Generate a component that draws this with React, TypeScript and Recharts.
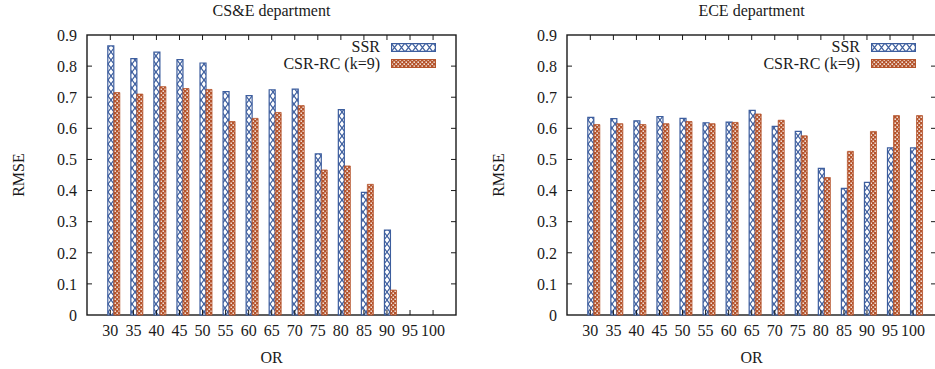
import * as React from "react";
import { BarChart, Bar, XAxis, YAxis, Legend } from "recharts";

const orLevels = ["30", "35", "40", "45", "50", "55", "60", "65", "70", "75", "80", "85", "90", "95", "100"];

// CS&E department (no results at 95 / 100)
const cseSSR = [0.865, 0.824, 0.845, 0.821, 0.81, 0.718, 0.705, 0.724, 0.726, 0.518, 0.66, 0.394, 0.273, null, null];
const cseCSR = [0.715, 0.71, 0.734, 0.728, 0.725, 0.622, 0.632, 0.651, 0.673, 0.466, 0.479, 0.42, 0.08, null, null];

// ECE department
const eceSSR = [0.635, 0.631, 0.624, 0.638, 0.632, 0.618, 0.62, 0.658, 0.606, 0.59, 0.471, 0.407, 0.426, 0.537, 0.537];
const eceCSR = [0.612, 0.615, 0.612, 0.615, 0.622, 0.615, 0.619, 0.646, 0.626, 0.576, 0.442, 0.526, 0.59, 0.641, 0.641];

const yTicks = [0, 0.1, 0.2, 0.3, 0.4, 0.5, 0.6, 0.7, 0.8, 0.9];

const BLUE = "#3d5e9e";
const ORANGE = "#b5542c";
const INK = "#1a1a1a";
const FONT = "'Liberation Serif', 'DejaVu Serif', serif";

// plot frame inside each 470x369 panel
const W = 470;
const H = 369;
const PL = 87;
const PR = 456;
const PT = 35;
const PB = 315;
const TICK = 5;
const SHIFT = 3; // gnuplot puts the tick on the first bar of the cluster

function XTick(props: any) {
  const { x, y, payload } = props;
  const cx = x - SHIFT;
  return (
    <g>
      <line x1={cx} x2={cx} y1={PT} y2={PT + TICK} stroke={INK} strokeWidth={1} />
      <line x1={cx} x2={cx} y1={PB} y2={PB - TICK} stroke={INK} strokeWidth={1} />
      <text x={cx} y={y} dy="0.71em" textAnchor="middle" fill={INK} fontSize={16} fontFamily={FONT}>
        {payload.value}
      </text>
    </g>
  );
}

function YTick(props: any) {
  const { x, y, payload } = props;
  const v = payload.value;
  const edge = v === 0 || v === 0.9;
  return (
    <g>
      {!edge && <line x1={PL} x2={PL + TICK} y1={y} y2={y} stroke={INK} strokeWidth={1} />}
      {!edge && <line x1={PR - TICK} x2={PR} y1={y} y2={y} stroke={INK} strokeWidth={1} />}
      <text x={x} y={y} dy="0.36em" textAnchor="end" fill={INK} fontSize={16} fontFamily={FONT}>
        {String(v)}
      </text>
    </g>
  );
}

function PatternDefs({ id }: { id: string }) {
  return (
    <defs>
      <pattern id={`${id}-ssr`} patternUnits="userSpaceOnUse" width={6} height={8}>
        <rect width={6} height={8} fill="#ffffff" />
        <path d="M0,0 L6,8 M6,0 L0,8" stroke={BLUE} strokeWidth={1.2} />
      </pattern>
      <pattern id={`${id}-csr`} patternUnits="userSpaceOnUse" width={4} height={4}>
        <rect width={4} height={4} fill={ORANGE} />
        <rect x={0.5} y={0.5} width={1.4} height={1.4} fill="#ffffff" />
        <rect x={2.5} y={2.5} width={1.4} height={1.4} fill="#ffffff" />
      </pattern>
    </defs>
  );
}

function LegendBox({ id }: { id: string }) {
  const rows = [
    { name: "SSR", fill: `url(#${id}-lssr)`, stroke: BLUE },
    { name: "CSR-RC (k=9)", fill: `url(#${id}-lcsr)`, stroke: ORANGE },
  ];
  return (
    <div style={{ fontFamily: FONT, fontSize: 16, color: INK }}>
      <svg width={0} height={0} style={{ position: "absolute" }}>
        <defs>
          <pattern id={`${id}-lssr`} patternUnits="userSpaceOnUse" width={7} height={9}>
            <rect width={7} height={9} fill="#ffffff" />
            <path d="M0,0 L7,9 M7,0 L0,9" stroke={BLUE} strokeWidth={1.2} />
          </pattern>
          <pattern id={`${id}-lcsr`} patternUnits="userSpaceOnUse" width={4} height={4}>
            <rect width={4} height={4} fill={ORANGE} />
            <rect x={0.5} y={0.5} width={1.4} height={1.4} fill="#ffffff" />
            <rect x={2.5} y={2.5} width={1.4} height={1.4} fill="#ffffff" />
          </pattern>
        </defs>
      </svg>
      {rows.map((r) => (
        <div
          key={r.name}
          style={{ display: "flex", justifyContent: "flex-end", alignItems: "center", height: 16.5, lineHeight: "16px" }}
        >
          <span>{r.name}</span>
          <svg width={45} height={9} style={{ marginLeft: 11, display: "block" }}>
            <rect x={0.6} y={0.6} width={43.8} height={7.8} fill={r.fill} stroke={r.stroke} strokeWidth={1.2} />
          </svg>
        </div>
      ))}
    </div>
  );
}

function Panel({ id, title, ssr, csr }: { id: string; title: string; ssr: (number | null)[]; csr: (number | null)[] }) {
  const data = orLevels.map((or, i) => ({ or, ssr: ssr[i], csr: csr[i] }));
  return (
    <BarChart
      width={W}
      height={H}
      data={data}
      margin={{ top: PT, right: W - PR, bottom: 0, left: 0 }}
      barGap={0}
      barSize={6}
    >
      <PatternDefs id={id} />
      <XAxis
        dataKey="or"
        interval={0}
        height={H - PB}
        padding={{ left: 14.8, right: 8.4 }}
        axisLine={false}
        tickLine={false}
        tickSize={0}
        tickMargin={10}
        tick={XTick}
      />
      <YAxis
        type="number"
        domain={[0, 0.9]}
        ticks={yTicks}
        width={PL}
        axisLine={false}
        tickLine={false}
        tickSize={0}
        tickMargin={10}
        tick={YTick}
      />
      <Legend
        layout="horizontal"
        verticalAlign="middle"
        align="center"
        wrapperStyle={{ top: 39, right: W - 436, left: "auto", width: 300 }}
        content={() => <LegendBox id={id} />}
      />
      <Bar dataKey="ssr" name="SSR" fill={`url(#${id}-ssr)`} stroke={BLUE} strokeWidth={1.2} isAnimationActive={false} />
      <Bar dataKey="csr" name="CSR-RC (k=9)" fill={`url(#${id}-csr)`} stroke={ORANGE} strokeWidth={0.8} isAnimationActive={false} />
      <rect x={PL} y={PT} width={PR - PL} height={PB - PT} fill="none" stroke={INK} strokeWidth={1.4} />
      <text x={(PL + PR) / 2} y={16} textAnchor="middle" fill={INK} fontSize={16} fontFamily={FONT}>
        {title}
      </text>
      <text x={(PL + PR) / 2} y={363} textAnchor="middle" fill={INK} fontSize={16} fontFamily={FONT}>
        OR
      </text>
      <text
        x={24}
        y={(PT + PB) / 2}
        textAnchor="middle"
        transform={`rotate(-90 24 ${(PT + PB) / 2})`}
        fill={INK}
        fontSize={16}
        fontFamily={FONT}
      >
        RMSE
      </text>
    </BarChart>
  );
}

export default function App() {
  return (
    <div
      style={{
        position: "absolute",
        left: 0,
        top: 0,
        width: 935,
        height: 369,
        overflow: "hidden",
        background: "#ffffff",
      }}
    >
      <div style={{ position: "absolute", left: 0, top: 0 }}>
        <Panel id="cse" title="CS&E department" ssr={cseSSR} csr={cseCSR} />
      </div>
      <div style={{ position: "absolute", left: 480, top: 0 }}>
        <Panel id="ece" title="ECE department" ssr={eceSSR} csr={eceCSR} />
      </div>
    </div>
  );
}
